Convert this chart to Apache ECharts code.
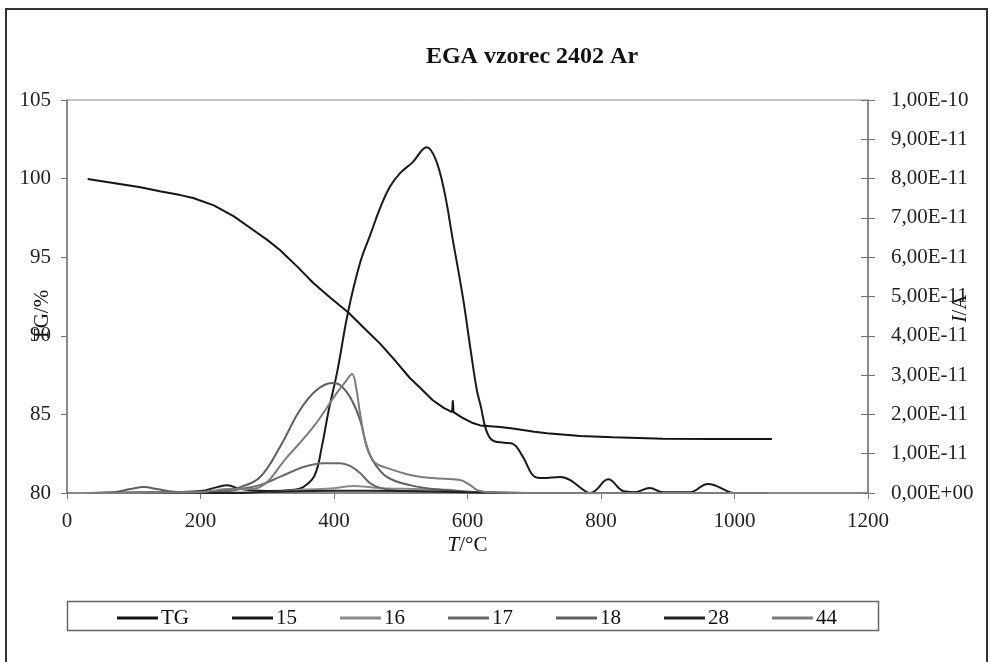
<!DOCTYPE html>
<html>
<head>
<meta charset="utf-8">
<title>EGA vzorec 2402 Ar</title>
<script src="https://cdn.jsdelivr.net/npm/echarts@6/dist/echarts.min.js"></script>
<style>
  html, body { margin: 0; padding: 0; background: #fff; }
  #chart { width: 990px; height: 662px; }
</style>
</head>
<body>
<div id="chart"></div>
<script>
// x ticks / left axis ticks / right axis ticks (right axis values are in units of 1e-11 A)
const xTicks = [0, 200, 400, 600, 800, 1000, 1200];
const tgTicks = [80, 85, 90, 95, 100, 105];
const ionTicks = [0, 1, 2, 3, 4, 5, 6, 7, 8, 9, 10];
const ION_UNIT = 1e-11;

// [T in °C, TG in %]
const tg = [
  [31, 99.97], [50, 99.85], [79, 99.66], [110, 99.45], [139, 99.2], [170, 98.95],
  [189, 98.77], [220, 98.3], [250, 97.6], [280, 96.7], [300, 96.1], [319, 95.46],
  [345, 94.4], [369, 93.36], [395, 92.4], [421, 91.5], [445, 90.5], [469, 89.5],
  [490, 88.5], [514, 87.3], [529, 86.7], [548, 85.9], [565, 85.4], [577, 85.15],
  [578, 85.9], [579, 85.15], [592, 84.8], [608, 84.45], [619, 84.3], [649, 84.2],
  [668, 84.1], [700, 83.9], [719, 83.8], [769, 83.62], [818, 83.55], [893, 83.45],
  [968, 83.43], [1056, 83.43]
];

// ion currents, [T in °C, I in 1e-11 A]
const m15 = [
  [30, 0], [150, 0.02], [200, 0.05], [225, 0.15], [240, 0.2], [260, 0.1], [300, 0.05],
  [340, 0.08], [354, 0.15], [371, 0.45], [382, 1.2], [392, 2.1], [405, 3.1],
  [421, 4.6], [439, 5.85], [455, 6.6], [469, 7.25], [484, 7.8], [499, 8.14], [518, 8.42], [539, 8.8],
  [552, 8.5], [565, 7.7], [578, 6.44], [593, 4.99], [605, 3.6], [614, 2.62], [620, 2.2], [628, 1.6],
  [638, 1.33], [655, 1.28], [668, 1.25], [683, 0.92], [701, 0.41], [713, 0.38], [739, 0.41],
  [754, 0.33], [772, 0.1], [783, 0], [791, 0.05], [811, 0.35], [833, 0.05], [850, 0.02],
  [873, 0.13], [893, 0.02], [933, 0.02], [960, 0.23], [993, 0.02], [1000, 0], [1050, 0]
];
const m16 = [
  [30, 0], [300, 0.02], [350, 0.08], [400, 0.12], [429, 0.18], [470, 0.12], [520, 0.1],
  [570, 0.08], [600, 0.03], [650, 0], [1050, 0]
];
const m17 = [
  [30, 0], [240, 0.05], [260, 0.1], [289, 0.2], [319, 0.41], [354, 0.66], [384, 0.76],
  [409, 0.76], [424, 0.69], [439, 0.51], [454, 0.25], [469, 0.13], [500, 0.05], [600, 0.02],
  [650, 0], [1050, 0]
];
const m18 = [
  [30, 0], [70, 0.02], [95, 0.1], [115, 0.15], [135, 0.1], [160, 0.03], [200, 0.02],
  [240, 0.08], [260, 0.15], [289, 0.4], [319, 1.17], [349, 2.11], [374, 2.62], [397, 2.8],
  [409, 2.75], [424, 2.44], [439, 1.86], [449, 1.2], [459, 0.8], [479, 0.41], [514, 0.2],
  [560, 0.08], [600, 0.03], [700, 0], [1050, 0]
];
const m28 = [
  [30, 0], [250, 0], [300, 0.03], [400, 0.06], [500, 0.05], [600, 0.02], [700, 0], [1050, 0]
];
const m44 = [
  [30, 0], [200, 0.02], [240, 0.1], [270, 0.1], [289, 0.15], [330, 0.92], [369, 1.68],
  [404, 2.54], [418, 2.85], [427, 3.03], [433, 2.7], [439, 2.03], [449, 1.17], [461, 0.78],
  [479, 0.64], [514, 0.46], [548, 0.38], [589, 0.33], [604, 0.2], [614, 0.08], [630, 0.02],
  [700, 0], [1050, 0]
];

const legendNames = ['TG', '15', '16', '17', '18', '28', '44'];

const FONT = '"Liberation Serif", "Times New Roman", serif';

function ionLabel(v) {
  if (v === 0) return '0,00E+00';
  const parts = (v * ION_UNIT).toExponential(2).split('e');
  const sign = parts[1][0] === '-' ? '-' : '+';
  let digits = parts[1].replace(/[+-]/, '');
  if (digits.length < 2) digits = '0' + digits;
  return parts[0].replace('.', ',') + 'E' + sign + digits;
}

function line(name, data, color, axis, smooth) {
  return {
    name: name, type: 'line', data: data, yAxisIndex: axis,
    symbol: 'none', smooth: smooth,
    lineStyle: { color: color, width: 2 }, itemStyle: { color: color },
    z: axis === 0 ? 5 : 3
  };
}

const chart = echarts.init(document.getElementById('chart'));
chart.setOption({
  animation: false,
  backgroundColor: '#fff',
  textStyle: { fontFamily: FONT },
  title: {
    text: 'EGA vzorec 2402 Ar', left: 527, top: 40, textAlign: 'center',
    textStyle: { fontFamily: FONT, fontSize: 24, fontWeight: 'bold', color: '#111' }
  },
  grid: {
    left: 67, right: 122, top: 100, bottom: 169, outerBoundsMode: 'none',
    show: true, borderColor: '#888', borderWidth: 1, backgroundColor: 'transparent'
  },
  legend: {
    data: legendNames, left: 112, top: 602, itemWidth: 41, itemHeight: 3, itemGap: 43,
    icon: 'rect',
    textStyle: { fontFamily: FONT, fontSize: 21, color: '#111', lineHeight: 22, padding: [0, 0, 0, -2] }
  },
  graphic: [
    { type: 'rect', shape: { x: 6, y: 9, width: 981, height: 690 },
      style: { fill: 'none', stroke: '#333', lineWidth: 2 }, silent: true },
    { type: 'rect', shape: { x: 67.5, y: 601.5, width: 811, height: 29 },
      style: { fill: 'none', stroke: '#666', lineWidth: 1.5 }, silent: true }
  ],
  xAxis: {
    type: 'value', min: xTicks[0], max: xTicks[xTicks.length - 1], interval: 200,
    name: '{i|T}/°C', nameLocation: 'middle', nameGap: 42, nameMoveOverlap: false,
    nameTextStyle: { fontFamily: FONT, fontSize: 21, color: '#111',
      rich: { i: { fontFamily: FONT, fontSize: 21, fontStyle: 'italic', color: '#111' } } },
    axisLine: { lineStyle: { color: '#777', width: 1.5 } },
    axisTick: { inside: false, length: 6, lineStyle: { color: '#777' } },
    axisLabel: { margin: 18, fontFamily: FONT, fontSize: 21, color: '#222', formatter: v => String(v) },
    splitLine: { show: false }
  },
  yAxis: [
    {
      type: 'value', position: 'left', min: tgTicks[0], max: tgTicks[tgTicks.length - 1], interval: 5,
      name: 'TG/%', nameLocation: 'middle', nameGap: 14, nameRotate: 90, nameMoveOverlap: false,
      nameTextStyle: { fontFamily: FONT, fontSize: 21, color: '#111', padding: [0, 38, 0, 0] },
      axisLine: { show: true, lineStyle: { color: '#777', width: 1.5 } },
      axisTick: { show: true, inside: false, length: 6, lineStyle: { color: '#777' } },
      axisLabel: { margin: 16, fontFamily: FONT, fontSize: 21, color: '#222' },
      splitLine: { show: false }
    },
    {
      type: 'value', position: 'right', min: ionTicks[0], max: ionTicks[ionTicks.length - 1], interval: 1,
      name: '{i|I}/A', nameLocation: 'middle', nameGap: 82, nameRotate: 90, nameMoveOverlap: false,
      nameTextStyle: { fontFamily: FONT, fontSize: 21, color: '#111', padding: [0, 24, 0, 0],
        rich: { i: { fontFamily: FONT, fontSize: 21, fontStyle: 'italic', color: '#111' } } },
      axisLine: { show: true, lineStyle: { color: '#777', width: 1.5 } },
      axisTick: { show: true, inside: false, length: 7, lineStyle: { color: '#777' } },
      axisLabel: { margin: 23, fontFamily: FONT, fontSize: 21, color: '#222', formatter: ionLabel },
      splitLine: { show: false }
    },
    {
      // inner half of the crossing ticks on the right axis
      type: 'value', position: 'right', min: ionTicks[0], max: ionTicks[ionTicks.length - 1], interval: 1,
      axisLine: { show: false },
      axisTick: { show: true, inside: true, length: 7, lineStyle: { color: '#777' } },
      axisLabel: { show: false },
      splitLine: { show: false }
    }
  ],
  series: [
    line('TG', tg, '#151515', 0, false),
    line('15', m15, '#1a1a1a', 1, 0.4),
    line('16', m16, '#8a8a8a', 1, 0.4),
    line('17', m17, '#6a6a6a', 1, 0.4),
    line('18', m18, '#5e5e5e', 1, 0.4),
    line('28', m28, '#222222', 1, 0.4),
    line('44', m44, '#7c7c7c', 1, 0.4)
  ]
});
</script>
</body>
</html>
